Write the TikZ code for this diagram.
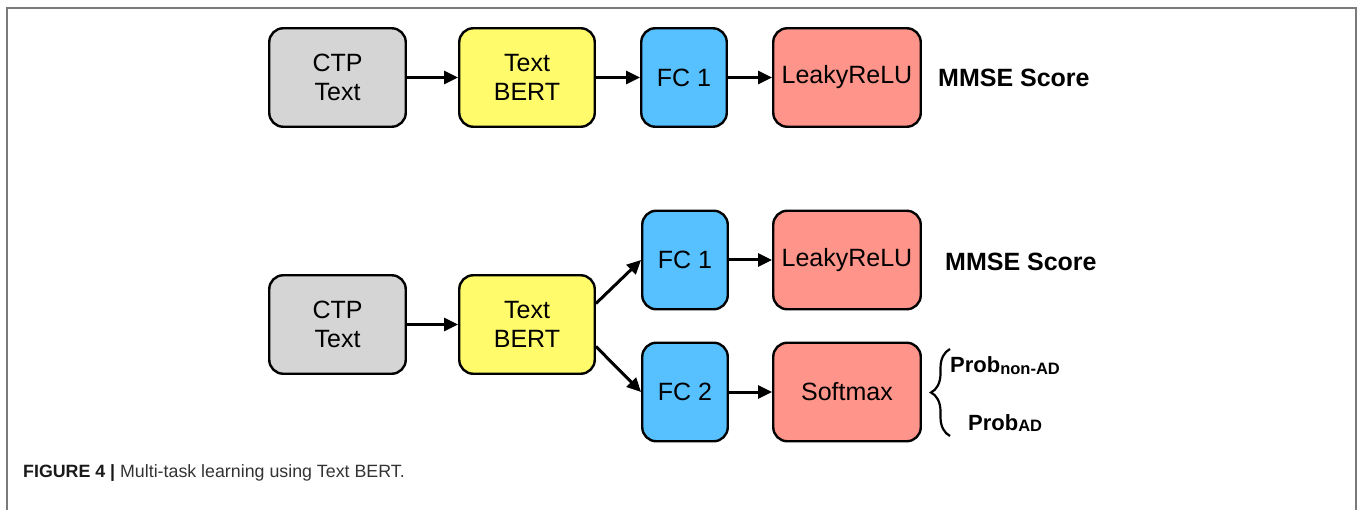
\documentclass[tikz,border=0pt]{standalone}
\usepackage{fontspec}
\setmainfont{Liberation Sans}
\usetikzlibrary{arrows.meta,decorations.pathreplacing}
\definecolor{cgray}{HTML}{D5D5D5}
\definecolor{cyellow}{HTML}{FFFB6B}
\definecolor{cblue}{HTML}{57C0FF}
\definecolor{csalmon}{HTML}{FF958A}
\definecolor{framegray}{HTML}{7A7A7A}
\definecolor{captext}{HTML}{333333}
\begin{document}
\begin{tikzpicture}[x=1pt,y=-1pt,
  blk/.style={draw=black, line width=2.4pt, rounded corners=14pt, minimum height=98.5pt,
    inner sep=0pt, align=center, font=\fontsize{25}{28.5}\selectfont},
  arr/.style={line width=3pt, -{Triangle[length=14pt,width=13pt]}},
  lbl/.style={font=\fontsize{25}{29}\selectfont\bfseries, anchor=base west, inner sep=0pt},
  prob/.style={font=\fontsize{22}{26}\selectfont\bfseries, anchor=base west, inner sep=0pt},
  capsty/.style={font=\fontsize{17.8}{21}\selectfont, anchor=base west, inner sep=0pt, text=captext}]
\useasboundingbox (0,0) rectangle (1362,510);
\draw[framegray, line width=1.5pt] (7,512) -- (7,8) -- (1356,8) -- (1356,512);

% top row
\node[blk, fill=cgray,   minimum width=136.5pt] (c1) at (337.5,77.5) {CTP\\Text};
\node[blk, fill=cyellow, minimum width=135.5pt] (b1) at (527,77.5) {Text\\BERT};
\node[blk, fill=cblue,   minimum width=85.5pt]  (f1) at (684,77.5) {FC 1};
\node[blk, fill=csalmon, minimum width=147.5pt] (l1) at (847,77.5) {LeakyReLU};
\node[lbl] (m1) at (938,87) {MMSE Score};
\draw[arr] (c1) -- (b1);
\draw[arr] (b1) -- (f1);
\draw[arr] (f1) -- (l1);

% bottom row
\node[blk, fill=cgray,   minimum width=136.5pt] (c2) at (337.5,324.5) {CTP\\Text};
\node[blk, fill=cyellow, minimum width=135.5pt] (b2) at (527,324.5) {Text\\BERT};
\node[blk, fill=cblue,   minimum width=85.5pt]  (f2) at (685,260) {FC 1};
\node[blk, fill=csalmon, minimum width=147.5pt] (l2) at (847,260) {LeakyReLU};
\node[blk, fill=cblue,   minimum width=85.5pt]  (f3) at (685,392) {FC 2};
\node[blk, fill=csalmon, minimum width=147.5pt] (s3) at (847,392) {Softmax};
\node[lbl] (m2) at (945,271) {MMSE Score};
\draw[arr] (c2) -- (b2);
\draw[arr] ([yshift=21pt]b2.east) -- (f2.west);
\draw[arr] ([yshift=-22pt]b2.east) -- (f3.west);
\draw[arr] (f2) -- (l2);
\draw[arr] (f3) -- (s3);

% brace and probabilities
\coordinate (bra) at (950,436);
\coordinate (brb) at (950,349);
\draw[line width=2.2pt, decorate, decoration={brace, amplitude=19pt}] (bra) -- (brb);
\node[prob] (p1) at (950,373) {Prob\raisebox{-1.5pt}{\fontsize{16.5}{18}\selectfont non-AD}};
\node[prob] (p2) at (968,430) {Prob\raisebox{-1.5pt}{\fontsize{16.5}{18}\selectfont AD}};

% caption
\node[capsty] (capt) at (23,477) {\textbf{\color{black!90}FIGURE 4 |} Multi-task learning using Text BERT.};
\end{tikzpicture}
\end{document}
